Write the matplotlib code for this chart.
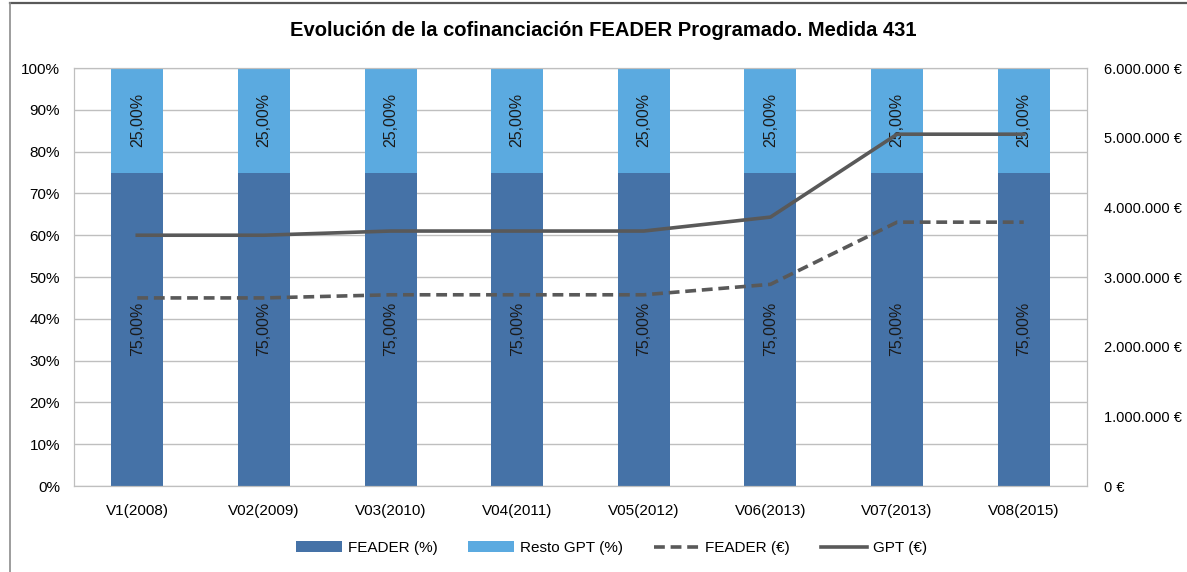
import numpy as np
import matplotlib.pyplot as plt
from matplotlib.lines import Line2D
from matplotlib.ticker import FuncFormatter, MultipleLocator

plt.rcParams['font.family'] = ['Liberation Sans', 'DejaVu Sans']

versions = ['V1(2008)', 'V02(2009)', 'V03(2010)', 'V04(2011)', 'V05(2012)',
            'V06(2013)', 'V07(2013)', 'V08(2015)']
feader_pct = [75.0, 75.0, 75.0, 75.0, 75.0, 75.0, 75.0, 75.0]
resto_pct = [25.0, 25.0, 25.0, 25.0, 25.0, 25.0, 25.0, 25.0]
gpt_eur = [3600000, 3600000, 3660000, 3660000, 3660000, 3860000, 5050000, 5050000]
feader_eur = [2700000, 2700000, 2745000, 2745000, 2745000, 2895000, 3787500, 3787500]

dark_blue = '#4572A7'
light_blue = '#5BAAE0'
line_gray = '#595959'
grid_gray = '#BFBFBF'

fig = plt.figure(figsize=(11.87, 5.72), dpi=100)
ax = fig.add_axes([0.0623, 0.1503, 0.8535, 0.7308])
x = np.arange(len(versions))

b1 = ax.bar(x, feader_pct, width=0.41, color=dark_blue, label='FEADER (%)', zorder=2)
b2 = ax.bar(x, resto_pct, width=0.41, bottom=feader_pct, color=light_blue,
            label='Resto GPT (%)', zorder=2)

for xi, f, r in zip(x, feader_pct, resto_pct):
    ax.text(xi, f / 2, f'{f:.2f}%'.replace('.', ','), rotation=90, ha='center',
            va='center', fontsize=11.5, color='#1a1a1a', zorder=5)
    ax.text(xi, f + r / 2, f'{r:.2f}%'.replace('.', ','), rotation=90, ha='center',
            va='center', fontsize=11.5, color='#1a1a1a', zorder=5)

ax.set_ylim(0, 100)
ax.set_xlim(-0.5, len(versions) - 0.5)
ax.yaxis.set_major_locator(MultipleLocator(10))
ax.yaxis.set_major_formatter(FuncFormatter(lambda v, p: f'{v:.0f}%'))
ax.set_xticks(x)
ax.set_xticklabels(versions)
ax.grid(axis='y', color=grid_gray, lw=1, zorder=0)
ax.tick_params(length=0, labelsize=11, pad=13)
ax.tick_params(axis='y', pad=10)
for s in ax.spines.values():
    s.set_color(grid_gray)

ax2 = ax.twinx()
l1, = ax2.plot(x, feader_eur, color=line_gray, lw=2.6, ls=(0, (3, 1.6)),
               label='FEADER (€)', zorder=4)
l2, = ax2.plot(x, gpt_eur, color=line_gray, lw=2.6, label='GPT (€)', zorder=4)
ax2.set_ylim(0, 6000000)
ax2.yaxis.set_major_locator(MultipleLocator(1000000))
ax2.yaxis.set_major_formatter(
    FuncFormatter(lambda v, p: f'{v:,.0f} €'.replace(',', '.')))
ax2.tick_params(length=0, labelsize=10.5, pad=12)
for s in ax2.spines.values():
    s.set_color(grid_gray)

fig.suptitle('Evolución de la cofinanciación FEADER Programado. Medida 431',
             x=0.508, y=0.963, fontsize=14.5, fontweight='bold')

fig.legend(handles=[b1, b2, l1, l2], loc='center', bbox_to_anchor=(0.515, 0.042),
           ncol=4, frameon=False, fontsize=11, handlelength=3.0,
           columnspacing=2.0, handletextpad=0.4)

# outer chart frame (top and left edges)
fig.add_artist(Line2D([10 / 1187, 1.0], [1 - 3 / 572, 1 - 3 / 572],
                      transform=fig.transFigure, color='#595959', lw=1.6))
fig.add_artist(Line2D([10 / 1187, 10 / 1187], [0.0, 1 - 3 / 572],
                      transform=fig.transFigure, color='#8C8C8C', lw=1.2))

fig.savefig('out.png', dpi=100)
